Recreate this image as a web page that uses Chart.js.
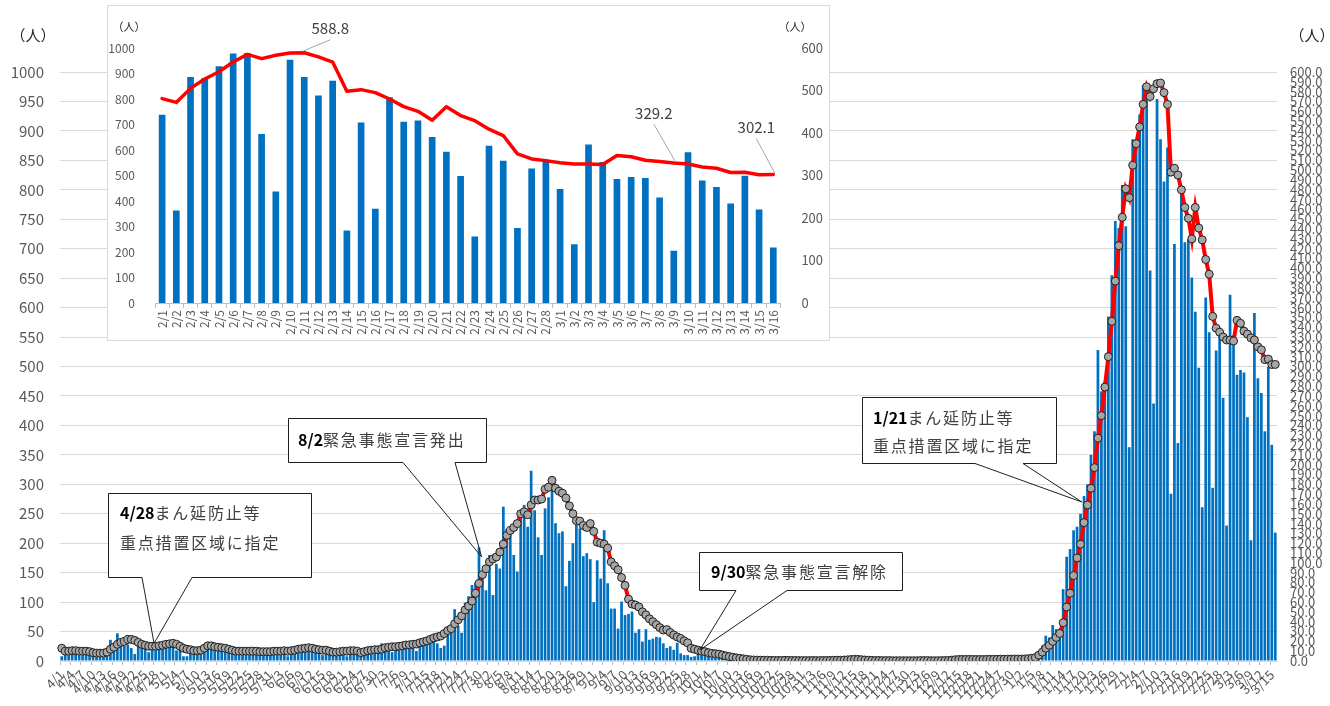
<!DOCTYPE html>
<html>
<head>
<meta charset="utf-8">
<script src="https://cdn.jsdelivr.net/npm/chart.js@4.4.1/dist/chart.umd.min.js"></script>
<style>
  html, body { margin: 0; padding: 0; background: #fff; }
  #wrap { position: relative; width: 1330px; height: 706px; overflow: hidden; }
  #main { position: absolute; left: 0; top: 0; }
  #insetBox { position: absolute; left: 107px; top: 5px; width: 723px; height: 336px;
              background: #fff; border: 1px solid #d9d9d9; box-sizing: border-box; }
  #inset { position: absolute; left: 0; top: 0; }
</style>
</head>
<body>
<div id="wrap">
  <canvas id="main" width="1330" height="706"></canvas>
  <div id="insetBox"><canvas id="inset" width="721" height="334"></canvas></div>
</div>
<script>
// ---- categories: one label per day, 4/1 to 3/16 ----
const monthSpans = [[4,30],[5,31],[6,30],[7,31],[8,31],[9,30],[10,31],[11,30],[12,31],[1,31],[2,28],[3,16]];
const dayLabels = monthSpans.flatMap(([m, n]) => Array.from({length: n}, (_, d) => m + '/' + (d + 1)));

// ---- daily new cases (left axis, 人) ----
const casesApr = [8,12,15,20,14,10,16,18,17,14,12,8,12,20,36,25,47,30,26,28,22,12,27,30,22,15,28,24,26,28];
const casesMay = [30,35,32,18,28,8,8,16,20,18,22,18,28,25,30,22,20,15,18,20,18,22,12,18,20,20,22,18,10,18,20];
const casesJun = [18,16,20,18,8,20,18,22,24,20,16,22,18,20,10,18,20,22,16,18,20,8,16,18,20,18,22,24,20,22];
const casesJul = [20,30,18,22,15,25,22,20,28,21,25,17,30,35,32,42,38,30,22,26,50,58,88,60,48,99,110,129,133,193,148];
const casesAug = [120,180,112,165,157,262,224,225,180,152,248,265,228,323,256,210,180,259,278,294,234,217,220,127,170,200,231,225,178,183,173];
const casesSep = [100,171,140,222,132,89,89,55,101,78,80,84,48,54,33,54,36,38,41,40,30,22,25,19,31,13,10,10,7,8];
const casesOct = [12,10,21,8,6,5,7,4,5,6,3,4,5,2,3,2,1,2,1,2,1,0,1,1,2,1,0,1,1,0,1];
const casesNov = [1,0,1,0,1,1,0,2,1,0,1,0,0,1,3,2,1,0,1,0,1,0,0,1,0,1,0,0,1,0];
const casesDec = [0,1,0,0,1,0,1,0,0,1,0,0,2,3,1,2,1,1,2,0,1,2,1,3,2,1,2,1,2,3,2];
const casesJan = [2,3,2,4,6,8,16,26,43,40,61,54,55,122,177,190,222,228,250,280,300,350,390,528,458,475,585,655,747,735,808];
const casesFeb = [738,363,886,882,928,978,980,663,437,954,886,814,872,284,708,370,807,711,716,651,593,498,261,617,558,294,527,553];
const casesMar = [447,230,622,553,486,494,490,414,205,591,480,455,390,499,367,218];

// ---- 7-day average (right axis, 人) ----
const avgApr = [13,10,10,10.5,10.5,10,10,10,9.5,8.5,8,8,8,9,12,14,17,19,20,22,22,21,19,17,16,15,15,15,15.5,16];
const avgMay = [17,17.5,18,17,15,13,12,11.5,10.5,10.5,11,13,15.5,15.5,14.5,14,13.5,13,12,11,10,10,10,10,10,10,10,9.5,9.5,9.5,9.5];
const avgJun = [10,10,10,10.5,10,10.5,11,12,12.5,13,13.5,13,12,11.5,11,11,10,9,9,9.5,10,10,10.5,10.5,10,8.5,9.5,10.5,11,11.5];
const avgJul = [11.5,12,13.5,14,14.5,14.5,15,15.5,16.3,16.5,17,17.3,18.5,19.5,20.5,22,23.5,24.5,25.5,28,31,33,38,42,46,52,56,61,69,79,88];
const avgAug = [94,101,104,106,111,119,128,133,136,140,150,152,149,159,164,164,165,175,177,184,176,173,171,166,158,150,143,142.5,138,136,140];
const avgSep = [132,121,120,119,115,101,97,93,85,77,63,58,57,55,50,47,43,40,37,34,31.5,32,29,26.5,24.5,23,20.5,18.5,13,12];
const avgOct = [11,10,9.5,8.5,7.8,7.4,7,6,5.2,4.5,3.8,3.2,2.7,2.2,1.7,1.2,1,0.9,0.8,0.8,0.7,0.6,0.6,0.5,0.6,0.7,0.6,0.5,0.5,0.4,0.4];
const avgNov = [0.4,0.4,0.5,0.4,0.4,0.5,0.5,0.6,0.7,0.8,0.8,1,1.2,1.5,1.7,1.6,1.3,1,0.8,0.6,0.5,0.5,0.4,0.4,0.4,0.3,0.3,0.3,0.3,0.3];
const avgDec = [0.3,0.3,0.3,0.4,0.4,0.4,0.3,0.3,0.3,0.4,0.4,0.5,0.9,1.3,1.5,1.6,1.6,1.6,1.6,1.5,1.5,1.5,1.6,1.7,1.7,1.7,1.8,1.8,1.9,2,2];
const avgJan = [2,2,2.1,2.3,2.8,3.5,6,9,13,16,20,24,28,39,55,69,87,105,119,141,159,176,197,227,250,279,310,346,387,423,452];
const avgFeb = [481,472,505,527,544,567,585,575,583,588.1,588.8,579,567,498,502,495,480,462,451,430,462,441,429,409,394,351,339,335];
const avgMar = [330,327,327,326,347,344,336,333,329.2,327,320,317,307,307.5,302,302.1];

// ---- axis ranges ----
const leftAxis  = { max: 1000, step: 50 };
const rightAxis = { max: 600,  step: 10 };
const insetLeftAxis  = { max: 1000, step: 100 };
const insetRightAxis = { max: 600,  step: 100 };

const dailyCases = [].concat(casesApr, casesMay, casesJun, casesJul, casesAug, casesSep,
                             casesOct, casesNov, casesDec, casesJan, casesFeb, casesMar);
const weeklyAvg  = [].concat(avgApr, avgMay, avgJun, avgJul, avgAug, avgSep,
                             avgOct, avgNov, avgDec, avgJan, avgFeb, avgMar);

// the close-up panel covers 2/1 onwards
const insetStart  = dayLabels.indexOf('2/1');
const insetLabels = dayLabels.slice(insetStart);
const insetCases  = dailyCases.slice(insetStart);
const insetAvg    = weeklyAvg.slice(insetStart);
const insetValueLabels = ['2/11', '3/9', '3/16'];

const FONT = '"Noto Sans CJK JP", "Noto Sans", sans-serif';
Chart.defaults.font.family = FONT;
Chart.defaults.color = '#595959';
const plain = v => String(v);

// ---- callouts on the main chart (tip given as day index / case count) ----
const callouts = [
  { lines: [[['4/28', true], ['まん延防止等', false]], [['重点措置区域に指定', false]]],
    box: [108, 493, 204, 85], textX: 120, lineY: [513, 543], wedge: [142, 192], tip: [26.55, 30] },
  { lines: [[['8/2', true], ['緊急事態宣言発出', false]]],
    box: [288, 418, 199, 45], textX: 298, lineY: [440], wedge: [403, 455], tip: [120.74, 177] },
  { lines: [[['9/30', true], ['緊急事態宣言解除', false]]],
    box: [699, 552, 204, 39], textX: 711, lineY: [572], wedge: [736, 787], tip: [183.5, 18.7] },
  { lines: [[['1/21', true], ['まん延防止等', false]], [['重点措置区域に指定', false]]],
    box: [862, 397, 195, 67], textX: 873, lineY: [418, 446], wedge: [975, 1023], tip: [293.35, 270] }
];

const mainDecor = {
  id: 'mainDecor',
  afterDraw(chart) {
    const ctx = chart.ctx;
    const xs = chart.scales.x, ys = chart.scales.y;
    ctx.save();
    // unit labels
    ctx.fillStyle = '#262626';
    ctx.font = '15px ' + FONT;
    ctx.textAlign = 'center';
    ctx.textBaseline = 'middle';
    ctx.fillText('（人）', 33, 35);
    ctx.fillText('（人）', 1312, 35);

    callouts.forEach(n => {
      const tipX = xs.getPixelForValue(n.tip[0]);
      const tipY = ys.getPixelForValue(n.tip[1]);
      const [bx, by, bw, bh] = n.box;
      const b = by + bh - 0.5;
      ctx.fillStyle = '#fff';
      ctx.fillRect(bx, by, bw, bh);
      ctx.strokeStyle = '#1f1f1f';
      ctx.lineWidth = 1;
      ctx.beginPath();
      ctx.moveTo(n.wedge[0], b);
      ctx.lineTo(bx + 0.5, b);
      ctx.lineTo(bx + 0.5, by + 0.5);
      ctx.lineTo(bx + bw - 0.5, by + 0.5);
      ctx.lineTo(bx + bw - 0.5, b);
      ctx.lineTo(n.wedge[1], b);
      ctx.lineTo(tipX, tipY);
      ctx.lineTo(n.wedge[0], b);
      ctx.stroke();

      ctx.textAlign = 'left';
      ctx.textBaseline = 'middle';
      n.lines.forEach((segs, li) => {
        let x = n.textX;
        const y = n.lineY[li];
        segs.forEach(([txt, bold]) => {
          ctx.font = (bold ? 'bold ' : '') + '16px ' + FONT;
          ctx.fillStyle = bold ? '#000' : '#404040';
          ctx.letterSpacing = bold ? '0px' : '1.8px';
          ctx.fillText(txt, x, y);
          x += ctx.measureText(txt).width;
        });
        ctx.letterSpacing = '0px';
      });
    });
    ctx.restore();
  }
};

new Chart(document.getElementById('main'), {
  type: 'bar',
  data: {
    labels: dayLabels,
    datasets: [
      { type: 'line', data: weeklyAvg, yAxisID: 'y1', order: 0,
        borderColor: '#ff0000', borderWidth: 4, tension: 0,
        pointRadius: 4, pointBackgroundColor: '#a6a6a6',
        pointBorderColor: '#1f1f1f', pointBorderWidth: 1 },
      { type: 'bar', data: dailyCases, yAxisID: 'y', order: 1,
        backgroundColor: '#0070c0', barPercentage: 0.78, categoryPercentage: 1 }
    ]
  },
  options: {
    responsive: false, animation: false, events: [],
    layout: { padding: { top: 72, left: 0, right: 0, bottom: 0 } },
    plugins: { legend: { display: false }, tooltip: { enabled: false } },
    scales: {
      x: {
        offset: true,
        grid: { offset: true, drawOnChartArea: false, drawTicks: true, tickLength: 4,
                color: c => (c.index % 3 === 0 ? '#bfbfbf' : 'rgba(0,0,0,0)') },
        border: { color: '#d9d9d9' },
        ticks: { autoSkip: false, minRotation: 45, maxRotation: 45, padding: 2,
                 color: '#595959', font: { size: 13 },
                 callback(v, i) { return i % 3 === 0 ? this.getLabelForValue(v) : ''; } },
        afterFit(s) { s.height = 45; }
      },
      y: {
        position: 'left', min: 0, max: leftAxis.max,
        ticks: { stepSize: leftAxis.step, autoSkip: false, padding: 16,
                 color: '#595959', font: { size: 15 }, callback: plain },
        grid: { color: '#d9d9d9', drawTicks: false },
        border: { display: false },
        afterFit(s) { s.width = 60; }
      },
      y1: {
        position: 'right', min: 0, max: rightAxis.max,
        ticks: { stepSize: rightAxis.step, autoSkip: false, padding: 13,
                 color: '#595959', font: { size: 13 },
                 callback: v => v.toFixed(1) },
        grid: { drawOnChartArea: false, drawTicks: false },
        border: { display: false },
        afterFit(s) { s.width = 53; }
      }
    }
  },
  plugins: [mainDecor]
});

// ---- close-up panel ----
const insetOffsets = { '2/11': [26, -24], '3/9': [-20, -50], '3/16': [-17, -47] };

const insetDecor = {
  id: 'insetDecor',
  afterDraw(chart) {
    const ctx = chart.ctx;
    ctx.save();
    ctx.fillStyle = '#262626';
    ctx.font = '11px ' + FONT;
    ctx.textAlign = 'center';
    ctx.textBaseline = 'middle';
    ctx.fillText('（人）', 21, 21);
    ctx.fillText('（人）', 687, 21);

    const meta = chart.getDatasetMeta(0);
    insetValueLabels.forEach(d => {
      const i = insetLabels.indexOf(d);
      const pt = meta.data[i];
      const [dx, dy] = insetOffsets[d];
      const lx = pt.x + dx, ly = pt.y + dy;
      ctx.strokeStyle = '#a6a6a6';
      ctx.lineWidth = 1;
      ctx.beginPath();
      ctx.moveTo(lx, ly + 11);
      ctx.lineTo(pt.x - Math.sign(dx) * 1.5, pt.y - 1.5);
      ctx.stroke();
      ctx.fillStyle = '#404040';
      ctx.font = '15px ' + FONT;
      ctx.fillText(insetAvg[i].toFixed(1), lx, ly);
    });
    ctx.restore();
  }
};

new Chart(document.getElementById('inset'), {
  type: 'bar',
  data: {
    labels: insetLabels,
    datasets: [
      { type: 'line', data: insetAvg, yAxisID: 'y1', order: 0,
        borderColor: '#ff0000', borderWidth: 3.5, tension: 0, pointRadius: 0,
        borderJoinStyle: 'round', borderCapStyle: 'round' },
      { type: 'bar', data: insetCases, yAxisID: 'y', order: 1,
        backgroundColor: '#0070c0', barPercentage: 0.47, categoryPercentage: 1 }
    ]
  },
  options: {
    responsive: false, animation: false, events: [],
    layout: { padding: { top: 42, left: 0, right: 0, bottom: 0 } },
    plugins: { legend: { display: false }, tooltip: { enabled: false } },
    scales: {
      x: {
        grid: { offset: true, drawOnChartArea: false, drawTicks: true, tickLength: 5, color: '#bfbfbf' },
        border: { color: '#bfbfbf' },
        ticks: { autoSkip: false, minRotation: 90, maxRotation: 90, padding: 2,
                 color: '#595959', font: { size: 12 } },
        afterFit(s) { s.height = 37; }
      },
      y: {
        position: 'left', min: 0, max: insetLeftAxis.max,
        ticks: { stepSize: insetLeftAxis.step, padding: 12, color: '#595959', font: { size: 12 },
                 callback: plain },
        grid: { display: false }, border: { display: false },
        afterFit(s) { s.width = 47; }
      },
      y1: {
        position: 'right', min: 0, max: insetRightAxis.max,
        ticks: { stepSize: insetRightAxis.step, padding: 13, color: '#595959', font: { size: 13 },
                 callback: plain },
        grid: { display: false }, border: { display: false },
        afterFit(s) { s.width = 48.6; }
      }
    }
  },
  plugins: [insetDecor]
});
</script>
</body>
</html>
